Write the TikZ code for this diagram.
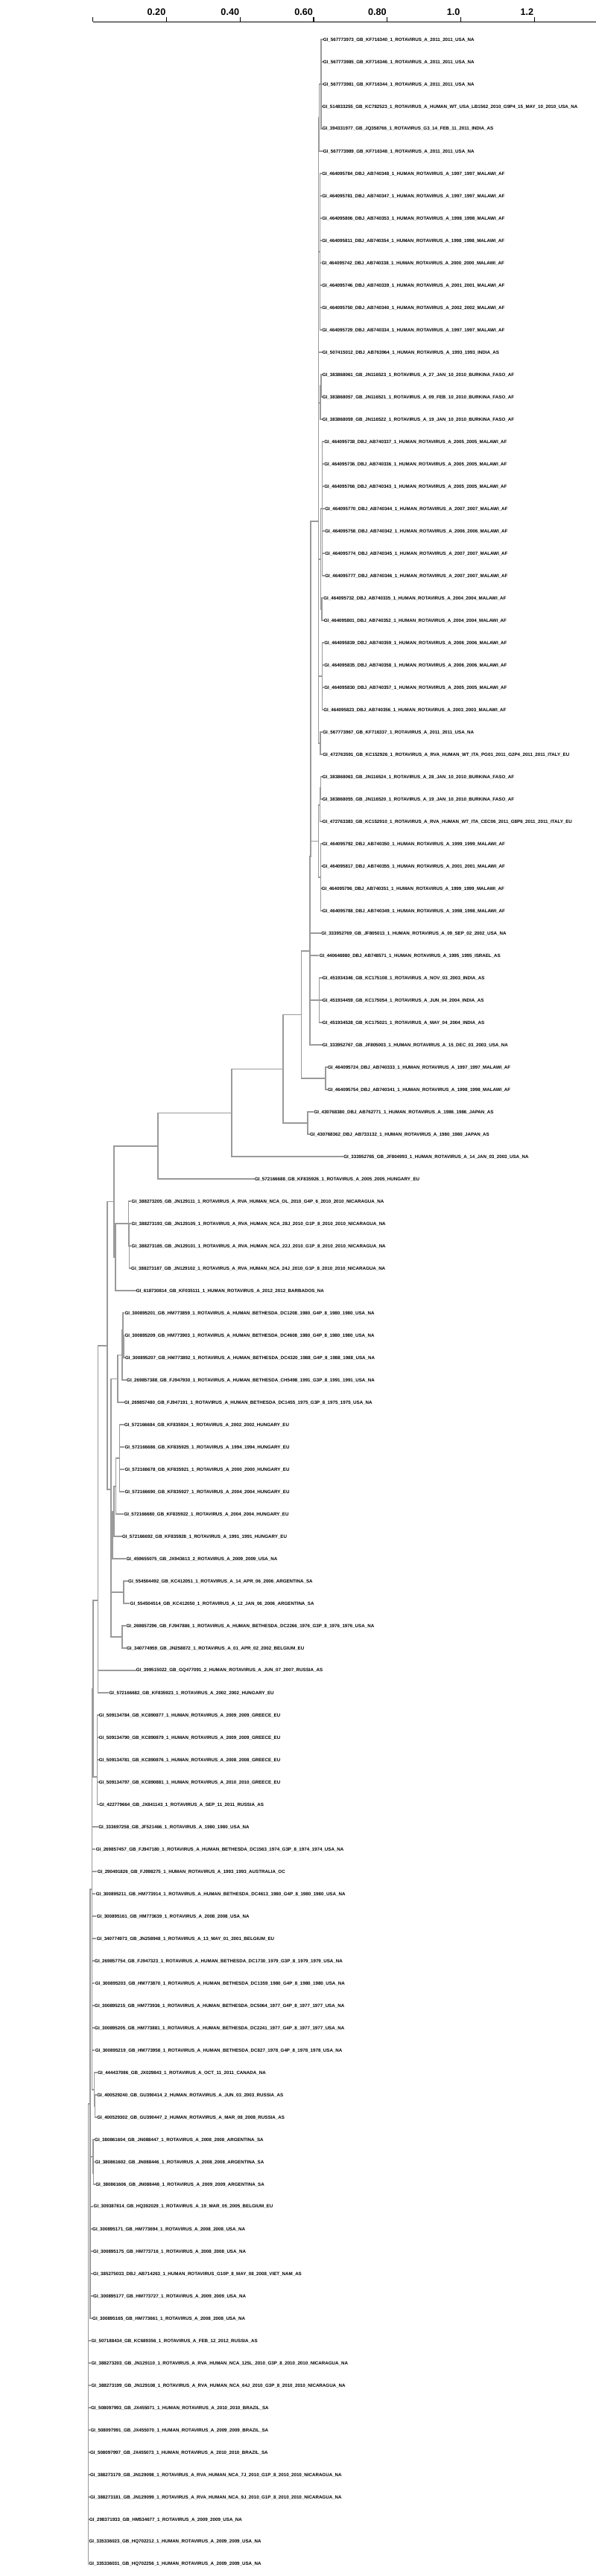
\documentclass[tikz,border=0pt]{standalone}
\usepackage{fontspec}
\setmainfont{Liberation Sans}
\usetikzlibrary{calc}
\definecolor{branchgray}{HTML}{9A9A9A}

\tikzset{
  branch/.style={draw=branchgray, line width=1.7pt, line cap=rect},
  leaf/.style={anchor=west, inner sep=1pt, font=\fontsize{6.2}{7}\selectfont\bfseries},
  scaletick/.style={black, line width=1.2pt},
  scalelabel/.style={anchor=base east, inner sep=0pt, font=\fontsize{12.6}{14}\selectfont\bfseries}
}
% internal node half way between first and last child
\newcommand\midnode[4]{\path let \p1=(#3), \p2=(#4) in coordinate (#1) at (#2pt, {0.5*\y1+0.5*\y2});}
% internal node at a given place
\newcommand\fixnode[3]{\coordinate (#1) at (#2,#3);}
\newcommand\kids[2]{\foreach \ch in {#2} {\draw[branch] (#1) |- (\ch);}}

\begin{document}
\catcode`\_=12
\begin{tikzpicture}[x=1pt, y=-30pt]
  \useasboundingbox (0,-0.7767) rectangle (800,114.5233);

  % scale bar
  \draw[scaletick] (124.7,0.2) -- (800,0.2);
  \foreach \v in {0,0.2,0.4,0.6,0.8,1.0,1.2}
    \draw[scaletick] ({124.7+493.8*\v},0) -- ({124.7+493.8*\v},0.2);
  \foreach \v/\t [count=\j] in {0.2/0.20,0.4/0.40,0.6/0.60,0.8/0.80,1.0/1.0,1.2/1.2}
    \node[scalelabel] (ax\j) at ({123.7+493.8*\v},-0.087) {\t};

  % leaves
  \foreach \tx/\txt [count=\i] in {
    432.7/GI_567773973_GB_KF716340_1_ROTAVIRUS_A_2011_2011_USA_NA,
    432.7/GI_567773985_GB_KF716346_1_ROTAVIRUS_A_2011_2011_USA_NA,
    432.7/GI_567773981_GB_KF716344_1_ROTAVIRUS_A_2011_2011_USA_NA,
    431.7/GI_514833255_GB_KC782523_1_ROTAVIRUS_A_HUMAN_WT_USA_LB1562_2010_G9P4_15_MAY_10_2010_USA_NA,
    431.7/GI_394331977_GB_JQ358766_1_ROTAVIRUS_G3_14_FEB_11_2011_INDIA_AS,
    432.7/GI_567773989_GB_KF716348_1_ROTAVIRUS_A_2011_2011_USA_NA,
    431.2/GI_464095784_DBJ_AB740348_1_HUMAN_ROTAVIRUS_A_1997_1997_MALAWI_AF,
    431.2/GI_464095781_DBJ_AB740347_1_HUMAN_ROTAVIRUS_A_1997_1997_MALAWI_AF,
    431.2/GI_464095806_DBJ_AB740353_1_HUMAN_ROTAVIRUS_A_1998_1998_MALAWI_AF,
    431.2/GI_464095811_DBJ_AB740354_1_HUMAN_ROTAVIRUS_A_1998_1998_MALAWI_AF,
    430.6/GI_464095742_DBJ_AB740338_1_HUMAN_ROTAVIRUS_A_2000_2000_MALAWI_AF,
    431.2/GI_464095746_DBJ_AB740339_1_HUMAN_ROTAVIRUS_A_2001_2001_MALAWI_AF,
    431.2/GI_464095750_DBJ_AB740340_1_HUMAN_ROTAVIRUS_A_2002_2002_MALAWI_AF,
    431.2/GI_464095729_DBJ_AB740334_1_HUMAN_ROTAVIRUS_A_1997_1997_MALAWI_AF,
    431.7/GI_507415012_DBJ_AB763964_1_HUMAN_ROTAVIRUS_A_1993_1993_INDIA_AS,
    431.7/GI_383868061_GB_JN116523_1_ROTAVIRUS_A_27_JAN_10_2010_BURKINA_FASO_AF,
    431.7/GI_383868057_GB_JN116521_1_ROTAVIRUS_A_09_FEB_10_2010_BURKINA_FASO_AF,
    431.7/GI_383868059_GB_JN116522_1_ROTAVIRUS_A_19_JAN_10_2010_BURKINA_FASO_AF,
    434.2/GI_464095738_DBJ_AB740337_1_HUMAN_ROTAVIRUS_A_2005_2005_MALAWI_AF,
    434.2/GI_464095736_DBJ_AB740336_1_HUMAN_ROTAVIRUS_A_2005_2005_MALAWI_AF,
    434.2/GI_464095766_DBJ_AB740343_1_HUMAN_ROTAVIRUS_A_2005_2005_MALAWI_AF,
    435.2/GI_464095770_DBJ_AB740344_1_HUMAN_ROTAVIRUS_A_2007_2007_MALAWI_AF,
    435.2/GI_464095758_DBJ_AB740342_1_HUMAN_ROTAVIRUS_A_2006_2006_MALAWI_AF,
    435.2/GI_464095774_DBJ_AB740345_1_HUMAN_ROTAVIRUS_A_2007_2007_MALAWI_AF,
    435.2/GI_464095777_DBJ_AB740346_1_HUMAN_ROTAVIRUS_A_2007_2007_MALAWI_AF,
    433.2/GI_464095732_DBJ_AB740335_1_HUMAN_ROTAVIRUS_A_2004_2004_MALAWI_AF,
    433.7/GI_464095801_DBJ_AB740352_1_HUMAN_ROTAVIRUS_A_2004_2004_MALAWI_AF,
    434.2/GI_464095839_DBJ_AB740359_1_HUMAN_ROTAVIRUS_A_2006_2006_MALAWI_AF,
    434.2/GI_464095835_DBJ_AB740358_1_HUMAN_ROTAVIRUS_A_2006_2006_MALAWI_AF,
    434.2/GI_464095830_DBJ_AB740357_1_HUMAN_ROTAVIRUS_A_2005_2005_MALAWI_AF,
    433.2/GI_464095823_DBJ_AB740356_1_HUMAN_ROTAVIRUS_A_2003_2003_MALAWI_AF,
    432.2/GI_567773967_GB_KF716337_1_ROTAVIRUS_A_2011_2011_USA_NA,
    432.2/GI_472763591_GB_KC152926_1_ROTAVIRUS_A_RVA_HUMAN_WT_ITA_PG01_2011_G2P4_2011_2011_ITALY_EU,
    431.7/GI_383868063_GB_JN116524_1_ROTAVIRUS_A_28_JAN_10_2010_BURKINA_FASO_AF,
    431.7/GI_383868055_GB_JN116520_1_ROTAVIRUS_A_19_JAN_10_2010_BURKINA_FASO_AF,
    431.7/GI_472763383_GB_KC152910_1_ROTAVIRUS_A_RVA_HUMAN_WT_ITA_CEC06_2011_G8P6_2011_2011_ITALY_EU,
    431.7/GI_464095792_DBJ_AB740350_1_HUMAN_ROTAVIRUS_A_1999_1999_MALAWI_AF,
    431.7/GI_464095817_DBJ_AB740355_1_HUMAN_ROTAVIRUS_A_2001_2001_MALAWI_AF,
    430.6/GI_464095796_DBJ_AB740351_1_HUMAN_ROTAVIRUS_A_1999_1999_MALAWI_AF,
    431.7/GI_464095788_DBJ_AB740349_1_HUMAN_ROTAVIRUS_A_1998_1998_MALAWI_AF,
    430.1/GI_333952769_GB_JF805013_1_HUMAN_ROTAVIRUS_A_09_SEP_02_2002_USA_NA,
    427.6/GI_440646980_DBJ_AB748571_1_HUMAN_ROTAVIRUS_A_1995_1995_ISRAEL_AS,
    431.7/GI_451934346_GB_KC175108_1_ROTAVIRUS_A_NOV_03_2003_INDIA_AS,
    431.7/GI_451934459_GB_KC175054_1_ROTAVIRUS_A_JUN_04_2004_INDIA_AS,
    431.7/GI_451934528_GB_KC175021_1_ROTAVIRUS_A_MAY_04_2004_INDIA_AS,
    431.7/GI_333952767_GB_JF805003_1_HUMAN_ROTAVIRUS_A_15_DEC_03_2003_USA_NA,
    438.8/GI_464095724_DBJ_AB740333_1_HUMAN_ROTAVIRUS_A_1997_1997_MALAWI_AF,
    438.8/GI_464095754_DBJ_AB740341_1_HUMAN_ROTAVIRUS_A_1998_1998_MALAWI_AF,
    420.4/GI_430768380_DBJ_AB762771_1_HUMAN_ROTAVIRUS_A_1986_1986_JAPAN_AS,
    414.8/GI_430768362_DBJ_AB733132_1_HUMAN_ROTAVIRUS_A_1980_1980_JAPAN_AS,
    460.2/GI_333952765_GB_JF804993_1_HUMAN_ROTAVIRUS_A_14_JAN_03_2003_USA_NA,
    340.8/GI_572166688_GB_KF835926_1_ROTAVIRUS_A_2005_2005_HUNGARY_EU,
    175.5/GI_388273205_GB_JN129111_1_ROTAVIRUS_A_RVA_HUMAN_NCA_OL_2010_G4P_6_2010_2010_NICARAGUA_NA,
    175.5/GI_388273193_GB_JN129105_1_ROTAVIRUS_A_RVA_HUMAN_NCA_28J_2010_G1P_8_2010_2010_NICARAGUA_NA,
    175.5/GI_388273185_GB_JN129101_1_ROTAVIRUS_A_RVA_HUMAN_NCA_22J_2010_G1P_8_2010_2010_NICARAGUA_NA,
    175.0/GI_388273187_GB_JN129102_1_ROTAVIRUS_A_RVA_HUMAN_NCA_24J_2010_G1P_8_2010_2010_NICARAGUA_NA,
    181.7/GI_618730814_GB_KF035111_1_HUMAN_ROTAVIRUS_A_2012_2012_BARBADOS_NA,
    166.3/GI_300895201_GB_HM773859_1_ROTAVIRUS_A_HUMAN_BETHESDA_DC1208_1980_G4P_8_1980_1980_USA_NA,
    166.3/GI_300895209_GB_HM773903_1_ROTAVIRUS_A_HUMAN_BETHESDA_DC4608_1980_G4P_8_1980_1980_USA_NA,
    166.8/GI_300895207_GB_HM773892_1_ROTAVIRUS_A_HUMAN_BETHESDA_DC4320_1988_G4P_8_1988_1988_USA_NA,
    169.0/GI_269857388_GB_FJ947930_1_ROTAVIRUS_A_HUMAN_BETHESDA_CH5498_1991_G3P_8_1991_1991_USA_NA,
    165.8/GI_269857480_GB_FJ947191_1_ROTAVIRUS_A_HUMAN_BETHESDA_DC1455_1975_G3P_8_1975_1975_USA_NA,
    165.8/GI_572166684_GB_KF835924_1_ROTAVIRUS_A_2002_2002_HUNGARY_EU,
    166.3/GI_572166686_GB_KF835925_1_ROTAVIRUS_A_1994_1994_HUNGARY_EU,
    166.3/GI_572166678_GB_KF835921_1_ROTAVIRUS_A_2000_2000_HUNGARY_EU,
    166.3/GI_572166690_GB_KF835927_1_ROTAVIRUS_A_2004_2004_HUNGARY_EU,
    165.3/GI_572166680_GB_KF835922_1_ROTAVIRUS_A_2004_2004_HUNGARY_EU,
    162.8/GI_572166692_GB_KF835928_1_ROTAVIRUS_A_1991_1991_HUNGARY_EU,
    168.4/GI_459655075_GB_JX943613_2_ROTAVIRUS_A_2009_2009_USA_NA,
    171.0/GI_554504492_GB_KC412051_1_ROTAVIRUS_A_14_APR_06_2006_ARGENTINA_SA,
    173.5/GI_554504514_GB_KC412050_1_ROTAVIRUS_A_12_JAN_06_2006_ARGENTINA_SA,
    168.4/GI_269857296_GB_FJ947886_1_ROTAVIRUS_A_HUMAN_BETHESDA_DC2266_1976_G3P_8_1976_1976_USA_NA,
    168.9/GI_340774959_GB_JN258872_1_ROTAVIRUS_A_01_APR_02_2002_BELGIUM_EU,
    181.7/GI_399515022_GB_GQ477091_2_HUMAN_ROTAVIRUS_A_JUN_07_2007_RUSSIA_AS,
    145.4/GI_572166682_GB_KF835923_1_ROTAVIRUS_A_2002_2002_HUNGARY_EU,
    131.7/GI_509134784_GB_KC890877_1_HUMAN_ROTAVIRUS_A_2009_2009_GREECE_EU,
    131.7/GI_509134790_GB_KC890879_1_HUMAN_ROTAVIRUS_A_2009_2009_GREECE_EU,
    131.7/GI_509134781_GB_KC890876_1_HUMAN_ROTAVIRUS_A_2008_2008_GREECE_EU,
    131.7/GI_509134797_GB_KC890881_1_HUMAN_ROTAVIRUS_A_2010_2010_GREECE_EU,
    132.2/GI_422779664_GB_JX841143_1_ROTAVIRUS_A_SEP_11_2011_RUSSIA_AS,
    131.1/GI_333697258_GB_JF521466_1_ROTAVIRUS_A_1980_1980_USA_NA,
    127.6/GI_269857457_GB_FJ947180_1_ROTAVIRUS_A_HUMAN_BETHESDA_DC1563_1974_G3P_8_1974_1974_USA_NA,
    129.6/GI_290491826_GB_FJ998275_1_HUMAN_ROTAVIRUS_A_1993_1993_AUSTRALIA_OC,
    127.6/GI_300895211_GB_HM773914_1_ROTAVIRUS_A_HUMAN_BETHESDA_DC4613_1980_G4P_8_1980_1980_USA_NA,
    128.6/GI_300895161_GB_HM773639_1_ROTAVIRUS_A_2008_2008_USA_NA,
    128.6/GI_340774973_GB_JN258948_1_ROTAVIRUS_A_13_MAY_01_2001_BELGIUM_EU,
    126.0/GI_269857754_GB_FJ947323_1_ROTAVIRUS_A_HUMAN_BETHESDA_DC1730_1979_G3P_8_1979_1979_USA_NA,
    126.6/GI_300895203_GB_HM773870_1_ROTAVIRUS_A_HUMAN_BETHESDA_DC1359_1980_G4P_8_1980_1980_USA_NA,
    126.0/GI_300895215_GB_HM773936_1_ROTAVIRUS_A_HUMAN_BETHESDA_DC5064_1977_G4P_8_1977_1977_USA_NA,
    126.0/GI_300895205_GB_HM773881_1_ROTAVIRUS_A_HUMAN_BETHESDA_DC2241_1977_G4P_8_1977_1977_USA_NA,
    126.6/GI_300895219_GB_HM773958_1_ROTAVIRUS_A_HUMAN_BETHESDA_DC827_1978_G4P_8_1978_1978_USA_NA,
    130.1/GI_444437086_GB_JX029843_1_ROTAVIRUS_A_OCT_11_2011_CANADA_NA,
    129.1/GI_400529240_GB_GU390414_2_HUMAN_ROTAVIRUS_A_JUN_03_2003_RUSSIA_AS,
    129.1/GI_400529302_GB_GU390447_2_HUMAN_ROTAVIRUS_A_MAR_08_2008_RUSSIA_AS,
    126.0/GI_380861604_GB_JN088447_1_ROTAVIRUS_A_2008_2008_ARGENTINA_SA,
    126.6/GI_380861602_GB_JN088446_1_ROTAVIRUS_A_2008_2008_ARGENTINA_SA,
    127.1/GI_380861606_GB_JN088448_1_ROTAVIRUS_A_2009_2009_ARGENTINA_SA,
    124.5/GI_309387814_GB_HQ392029_1_ROTAVIRUS_A_19_MAR_05_2005_BELGIUM_EU,
    123.0/GI_300895171_GB_HM773694_1_ROTAVIRUS_A_2008_2008_USA_NA,
    124.0/GI_300895175_GB_HM773716_1_ROTAVIRUS_A_2008_2008_USA_NA,
    124.0/GI_385275033_DBJ_AB714263_1_HUMAN_ROTAVIRUS_G10P_8_MAY_08_2008_VIET_NAM_AS,
    124.0/GI_300895177_GB_HM773727_1_ROTAVIRUS_A_2009_2009_USA_NA,
    123.0/GI_300895165_GB_HM773661_1_ROTAVIRUS_A_2008_2008_USA_NA,
    121.4/GI_507188434_GB_KC689356_1_ROTAVIRUS_A_FEB_12_2012_RUSSIA_AS,
    121.4/GI_388273203_GB_JN129110_1_ROTAVIRUS_A_RVA_HUMAN_NCA_125L_2010_G3P_8_2010_2010_NICARAGUA_NA,
    121.4/GI_388273199_GB_JN129108_1_ROTAVIRUS_A_RVA_HUMAN_NCA_64J_2010_G3P_8_2010_2010_NICARAGUA_NA,
    120.9/GI_508097993_GB_JX455071_1_HUMAN_ROTAVIRUS_A_2010_2010_BRAZIL_SA,
    120.4/GI_508097991_GB_JX455070_1_HUMAN_ROTAVIRUS_A_2009_2009_BRAZIL_SA,
    119.9/GI_508097997_GB_JX455073_1_HUMAN_ROTAVIRUS_A_2010_2010_BRAZIL_SA,
    119.9/GI_388273179_GB_JN129098_1_ROTAVIRUS_A_RVA_HUMAN_NCA_7J_2010_G1P_8_2010_2010_NICARAGUA_NA,
    119.9/GI_388273181_GB_JN129099_1_ROTAVIRUS_A_RVA_HUMAN_NCA_9J_2010_G1P_8_2010_2010_NICARAGUA_NA,
    118.9/GI_298371933_GB_HM534677_1_ROTAVIRUS_A_2009_2009_USA_NA,
    118.4/GI_335336023_GB_HQ702212_1_HUMAN_ROTAVIRUS_A_2009_2009_USA_NA,
    118.4/GI_335336031_GB_HQ702256_1_HUMAN_ROTAVIRUS_A_2009_2009_USA_NA} {
    \coordinate (t\i) at (\tx,\i);
    \node[leaf] (lab\i) at (t\i) {\txt};
  }

  % upper clade, near zero branch lengths
  \midnode{nA1}{431}{t1}{t5}        \kids{nA1}{t1,t2,t3,t4,t5}
  \midnode{nA}{428.6}{nA1}{t6}      \kids{nA}{nA1,t6}
  \midnode{nB}{429.5}{t7}{t14}      \kids{nB}{t7,t8,t9,t10,t11,t12,t13,t14}
  \midnode{nBF1}{430.8}{t16}{t17}   \kids{nBF1}{t16,t17}
  \midnode{nBF}{429.8}{nBF1}{t18}   \kids{nBF}{nBF1,t18}
  \midnode{nM2a}{432.5}{t19}{t25}   \kids{nM2a}{t19,t20,t21,t22,t23,t24,t25}
  \midnode{nM2b}{432}{t26}{t27}     \kids{nM2b}{t26,t27}
  \midnode{nM2}{430.5}{nM2a}{nM2b}  \kids{nM2}{nM2a,nM2b}
  \midnode{nM3}{432.5}{t28}{t31}    \kids{nM3}{t28,t29,t30,t31}
  \midnode{nC}{430}{t32}{t33}       \kids{nC}{t32,t33}
  \fixnode{nT}{427.6}{22.56}        \kids{nT}{nA,nB,t15,nBF,nM2,nM3,nC}
  \midnode{nQ1}{430.5}{t34}{t35}    \kids{nQ1}{t34,t35}
  \midnode{nQ}{429.5}{nQ1}{t36}     \kids{nQ}{nQ1,t36}
  \midnode{nMal}{430.5}{t37}{t40}   \kids{nMal}{t37,t38,t39,t40}
  \midnode{nW}{427.6}{nQ}{nMal}     \kids{nW}{nQ,nMal}
  \fixnode{c1}{417.3}{37.56}        \kids{c1}{nT,nW}
  \midnode{nIn}{428.6}{t43}{t45}    \kids{nIn}{t43,t44,t45}
  \fixnode{n418}{415.8}{41.78}      \kids{n418}{c1,t41,t42,nIn,t46}

  % Malawi / Japan / USA / Hungary
  \midnode{n437}{437.2}{t47}{t48}   \kids{n437}{t47,t48}
  \midnode{n412}{413.3}{t49}{t50}   \kids{n412}{t49,t50}
  \midnode{n404}{404.6}{n418}{n437} \kids{n404}{n418,n437}
  \midnode{n380}{380}{n404}{n412}   \kids{n380}{n404,n412}
  \midnode{n311}{311}{n380}{t51}    \kids{n311}{n380,t51}
  \midnode{n212}{212}{n311}{t52}    \kids{n212}{n311,t52}

  % Nicaragua / Barbados
  \midnode{nNi1}{173.5}{t54}{t56}   \kids{nNi1}{t54,t55,t56}
  \midnode{nNi}{172.4}{t53}{nNi1}   \kids{nNi}{t53,nNi1}
  \midnode{n155}{155}{nNi}{t57}     \kids{n155}{nNi,t57}
  \midnode{n153}{153}{n212}{n155}   \kids{n153}{n212,n155}

  % Bethesda, Hungary, Argentina
  \midnode{nBe1}{166}{t59}{t60}     \kids{nBe1}{t59,t60}
  \midnode{nBe2}{165.3}{t58}{nBe1}  \kids{nBe2}{t58,nBe1}
  \midnode{nBe}{164.3}{nBe2}{t61}   \kids{nBe}{nBe2,t61}
  \midnode{n158}{158.2}{nBe}{t62}   \kids{n158}{nBe,t62}
  \midnode{nHu1}{160.5}{t63}{t66}   \kids{nHu1}{t63,t64,t65,t66}
  \midnode{nHu1b}{155.6}{nHu1}{t67} \kids{nHu1b}{nHu1,t67}
  \midnode{nHu}{153}{nHu1b}{t68}    \kids{nHu}{nHu1b,t68}
  \midnode{nHu2}{151}{nHu}{t69}     \kids{nHu2}{nHu,t69}
  \midnode{nAr}{166.3}{t70}{t71}    \kids{nAr}{t70,t71}
  \midnode{nH}{149.5}{nHu2}{nAr}    \kids{nH}{nHu2,nAr}
  \midnode{nBB}{164.3}{t72}{t73}    \kids{nBB}{t72,t73}
  \midnode{nY}{149}{nH}{nBB}        \kids{nY}{nH,nBB}
  \midnode{n149}{149}{n158}{nY}     \kids{n149}{n158,nY}
  \midnode{n144}{143.9}{n153}{n149} \kids{n144}{n153,n149}
  \midnode{n131a}{131.6}{n144}{t74} \kids{n131a}{n144,t74}
  \midnode{n131b}{131.6}{n131a}{t75} \kids{n131b}{n131a,t75}

  % lower clades, root
  \midnode{nGr1}{130.6}{t76}{t79}   \kids{nGr1}{t76,t77,t78,t79}
  \midnode{nGr}{130.6}{nGr1}{t80}   \kids{nGr}{nGr1,t80}
  \midnode{nP}{125}{n131b}{nGr}     \kids{nP}{n131b,nGr}
  \midnode{nRu1}{127.6}{t93}{t94}   \kids{nRu1}{t93,t94}
  \midnode{nRu}{126.5}{t92}{nRu1}   \kids{nRu}{t92,nRu1}
  \midnode{nP2}{123.5}{nP}{nRu}     \kids{nP2}{nP,t81,t82,t83,t84,t85,t86,t87,t88,t89,t90,t91,nRu}
  \midnode{nAr3}{125.5}{t96}{t97}   \kids{nAr3}{t96,t97}
  \midnode{nAr2}{125}{t95}{nAr3}    \kids{nAr2}{t95,nAr3}
  \midnode{nP3}{121}{nP2}{t103}     \kids{nP3}{nP2,nAr2,t98,t99,t100,t101,t102,t103}
  \midnode{root}{118.4}{nP3}{t114}  \kids{root}{nP3,t104,t105,t106,t107,t108,t109,t110,t111,t112,t113,t114}
\end{tikzpicture}
\end{document}
